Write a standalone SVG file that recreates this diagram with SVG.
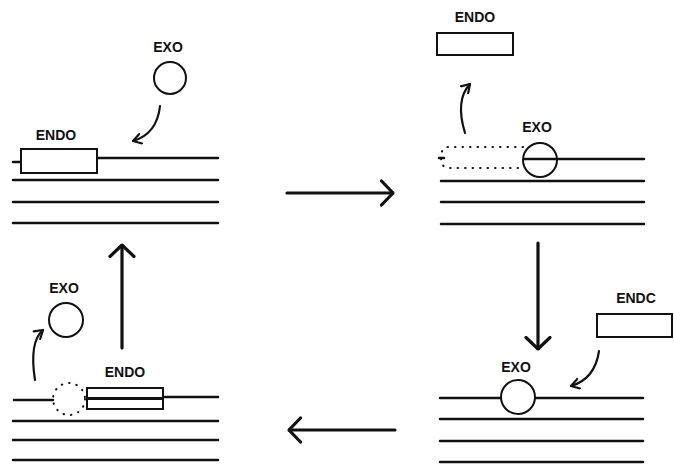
<svg xmlns="http://www.w3.org/2000/svg" width="674" height="468" viewBox="0 0 674 468">
<style>
.t{font-family:"Liberation Sans",Arial,sans-serif;font-weight:bold;font-size:14px;text-anchor:middle;fill:#111}
.m{stroke:#111;stroke-width:2.5;fill:none;stroke-linecap:round}
.b{stroke:#111;stroke-width:2;fill:#fff}
.d{stroke:#111;stroke-width:2;fill:none;stroke-dasharray:0.5 7;stroke-linecap:round}
.c{stroke:#111;stroke-width:2.2;fill:none;stroke-linecap:round}
.a{stroke:#111;stroke-width:3.2;fill:none;stroke-linecap:round}
</style>
<defs>
<marker id="sm" viewBox="0 0 10 12" refX="9" refY="6" markerWidth="10" markerHeight="12" markerUnits="userSpaceOnUse" orient="auto">
<path d="M1,1 L9,6 L1,11" fill="none" stroke="#111" stroke-width="2.2" stroke-linecap="round" stroke-linejoin="round"/>
</marker>
<marker id="bg" viewBox="0 0 14 28" refX="13" refY="14" markerWidth="14" markerHeight="28" markerUnits="userSpaceOnUse" orient="auto">
<path d="M1.5,2 L13,14 L1.5,26" fill="none" stroke="#111" stroke-width="3.2" stroke-linecap="round" stroke-linejoin="round"/>
</marker>
</defs>

<g id="panel-top-left">
<line class="m" x1="97" y1="158" x2="218" y2="158"/>
<line class="m" x1="13" y1="162" x2="21" y2="162"/>
<line class="m" x1="13" y1="180" x2="218" y2="180"/>
<line class="m" x1="13" y1="202" x2="218" y2="202"/>
<line class="m" x1="13" y1="223" x2="218" y2="223"/>
<g id="tl-endo"><rect class="b" x="21" y="149" width="76" height="24"/><text class="t" x="56" y="140">ENDO</text></g>
<g id="tl-exo"><circle class="b" cx="170" cy="78" r="16"/><text class="t" x="168" y="52">EXO</text></g>
</g>

<g id="panel-top-right">
<line class="m" x1="441" y1="181" x2="644" y2="181"/>
<line class="m" x1="441" y1="202" x2="644" y2="202"/>
<line class="m" x1="441" y1="224" x2="644" y2="224"/>
<path class="d" d="M523,147 L449,147 Q441,147 441,157.5 Q441,168 449,168 L523,168"/>
<line class="m" x1="439" y1="158" x2="444" y2="158"/>
<g id="tr-exo"><circle class="b" cx="540" cy="160" r="17"/><line class="m" x1="524" y1="159" x2="644" y2="159"/><text class="t" x="537" y="132">EXO</text></g>
<g id="tr-endo"><rect class="b" x="437" y="33" width="76" height="22"/><text class="t" x="475" y="22">ENDO</text></g>
</g>

<g id="panel-bottom-right">
<line class="m" x1="440" y1="398" x2="643" y2="398"/>
<line class="m" x1="440" y1="419" x2="643" y2="419"/>
<line class="m" x1="440" y1="441" x2="643" y2="441"/>
<line class="m" x1="440" y1="462" x2="643" y2="462"/>
<g id="br-exo"><circle class="b" cx="518" cy="397" r="17"/><text class="t" x="516" y="372">EXO</text></g>
<g id="br-endo"><rect class="b" x="597" y="314" width="75" height="23"/><text class="t" x="636" y="303">ENDC</text></g>
</g>

<g id="panel-bottom-left">
<line class="m" x1="14" y1="400" x2="53" y2="400"/>
<line class="m" x1="163" y1="397" x2="218" y2="397"/>
<line class="m" x1="13" y1="421" x2="218" y2="421"/>
<line class="m" x1="13" y1="440" x2="218" y2="440"/>
<line class="m" x1="13" y1="460" x2="218" y2="460"/>
<circle class="d" cx="69" cy="399" r="16"/>
<g id="bl-endo"><rect class="b" x="87" y="388" width="76" height="21"/><line x1="87" y1="398.5" x2="163" y2="398.5" stroke="#111" stroke-width="3"/><text class="t" x="125" y="377">ENDO</text></g>
<g id="bl-exo"><circle class="b" cx="66" cy="320" r="17"/><text class="t" x="64" y="293">EXO</text></g>
</g>

<g id="connectors">
<path class="c" d="M160,106 Q157,134 133,141" marker-end="url(#sm)"/>
<path class="c" d="M465,133 Q455,100 470,84" marker-end="url(#sm)"/>
<path class="c" d="M599,351 Q595,379 571,386" marker-end="url(#sm)"/>
<path class="c" d="M35,380 Q29,342 43,330" marker-end="url(#sm)"/>
<line class="a" x1="287" y1="193" x2="393" y2="193" marker-end="url(#bg)"/>
<line class="a" x1="538" y1="243" x2="538" y2="349" marker-end="url(#bg)"/>
<line class="a" x1="395" y1="430" x2="289" y2="430" marker-end="url(#bg)"/>
<line class="a" x1="122" y1="348" x2="122" y2="245" marker-end="url(#bg)"/>
</g>
</svg>
